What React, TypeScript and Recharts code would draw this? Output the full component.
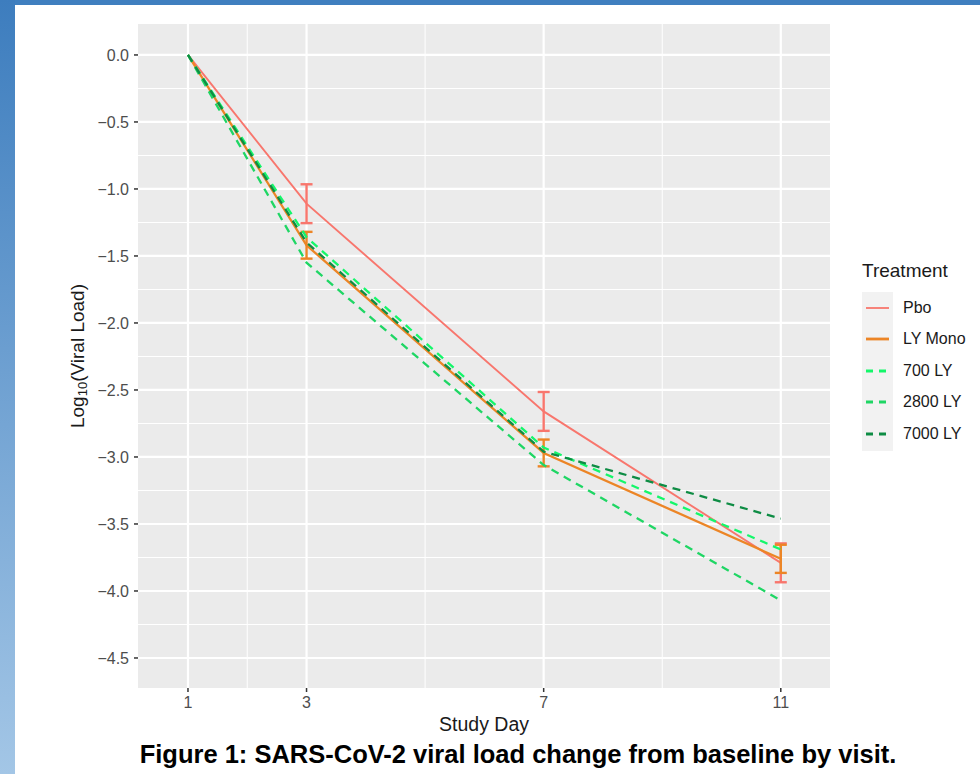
import React from 'react'
import { LineChart, Line, XAxis, YAxis, CartesianGrid, ErrorBar } from 'recharts'

const days = [1, 3, 7, 11]
const pbo = [0, -1.11, -2.66, -3.79]
const pboErr = [0, 0.145, 0.145, 0.145]
const lyMono = [0, -1.42, -2.97, -3.76]
const lyMonoErr = [0, 0.1, 0.1, 0.105]
const ly700 = [0, -1.36, -2.93, -3.69]
const ly2800 = [0, -1.55, -3.06, -4.07]
const ly7000 = [0, -1.4, -2.96, -3.46]

const yTicks = [0, -0.5, -1, -1.5, -2, -2.5, -3, -3.5, -4, -4.5]
const yMinor = [-0.25, -0.75, -1.25, -1.75, -2.25, -2.75, -3.25, -3.75, -4.25]
const xTicks = [1, 3, 7, 11]
const xMinor = [2, 5, 9]

const series = [
  { key: 'pbo', name: 'Pbo', color: '#F8766D', width: 1.9, dash: undefined },
  { key: 'lyMono', name: 'LY Mono', color: '#EC8526', width: 2.3, dash: undefined },
  { key: 'ly700', name: '700 LY', color: '#14F76A', width: 2.3, dash: '8 6' },
  { key: 'ly2800', name: '2800 LY', color: '#1FD664', width: 2.3, dash: '8 6' },
  { key: 'ly7000', name: '7000 LY', color: '#0E8C44', width: 2.3, dash: '8 6' },
]

const data = days.map((day, i) => ({
  day,
  pbo: pbo[i],
  pboErr: pboErr[i],
  lyMono: lyMono[i],
  lyMonoErr: lyMonoErr[i],
  ly700: ly700[i],
  ly2800: ly2800[i],
  ly7000: ly7000[i],
}))

const font = '"Liberation Sans", Arial, sans-serif'
const fmt = (v: number) => (v < 0 ? '\u2212' + Math.abs(v).toFixed(1) : v.toFixed(1))

function TreatmentLegend() {
  return (
    <div style={{ position: 'absolute', left: 862, top: 259, width: 118, fontFamily: font }}>
      <div style={{ fontSize: 19, lineHeight: '24px', color: '#1a1a1a', marginBottom: 9 }}>Treatment</div>
      <div style={{ position: 'relative' }}>
        <div style={{ position: 'absolute', left: 0, top: 0, width: 31, height: 159, background: '#F2F2F2' }} />
        {series.map((s) => (
          <div key={s.key} style={{ position: 'relative', height: 31.5, display: 'flex', alignItems: 'center' }}>
            <svg width={31} height={10} style={{ display: 'block' }}>
              <line x1={4} x2={27} y1={5} y2={5} stroke={s.color} strokeWidth={s.key === 'pbo' ? 1.8 : 2.8} strokeDasharray={s.dash ? '7 6' : undefined} />
            </svg>
            <span style={{ marginLeft: 10, fontSize: 16, color: '#1a1a1a' }}>{s.name}</span>
          </div>
        ))}
      </div>
    </div>
  )
}

function YTitle(props: any) {
  const { viewBox } = props
  const cx = 77
  const cy = viewBox.y + viewBox.height / 2
  return (
    <text x={cx} y={cy} transform={`rotate(-90 ${cx} ${cy})`} textAnchor="middle" dominantBaseline="central" fill="#1a1a1a" fontSize={19} fontFamily={font}>
      Log<tspan fontSize={13} dy={5}>10</tspan><tspan dy={-5}>(Viral Load)</tspan>
    </text>
  )
}

function XTitle(props: any) {
  const { viewBox } = props
  return (
    <text x={viewBox.x + viewBox.width / 2} y={724} textAnchor="middle" dominantBaseline="central" fill="#1a1a1a" fontSize={19.5} fontFamily={font}>
      Study Day
    </text>
  )
}

export default function App() {
  return (
    <div style={{ position: 'absolute', left: 0, top: 0, width: 980, height: 774, background: '#fff', overflow: 'hidden' }}>
      <div style={{ position: 'absolute', left: 0, top: 0, width: 980, height: 5, background: '#3F7FBF' }} />
      <div style={{ position: 'absolute', left: 0, top: 0, width: 15, height: 774, background: 'linear-gradient(#3D7DBE, #A3C6E6)' }} />
      <div style={{ position: 'absolute', left: 0, top: 0 }}>
        <LineChart width={980} height={774} data={data} margin={{ top: 24, right: 150, bottom: 54, left: 78 }} style={{ fontFamily: font }}>
          <CartesianGrid fill="#EBEBEB" stroke="#FFFFFF" strokeWidth={1} horizontalValues={yMinor} verticalValues={xMinor} />
          <CartesianGrid fill="none" stroke="#FFFFFF" strokeWidth={2.2} horizontalValues={yTicks} verticalValues={xTicks} />
          <XAxis
            type="number"
            dataKey="day"
            domain={[0.157, 11.83]}
            ticks={xTicks}
            allowDataOverflow
            axisLine={false}
            tickLine={{ stroke: '#333', strokeWidth: 1.5 }}
            tickSize={4}
            tickMargin={5}
            tick={{ fill: '#4D4D4D', fontSize: 16 }}
            height={32}
            label={<XTitle />}
          />
          <YAxis
            type="number"
            domain={[-4.724, 0.231]}
            ticks={yTicks}
            allowDataOverflow
            axisLine={false}
            tickLine={{ stroke: '#333', strokeWidth: 1.5 }}
            tickSize={4}
            tickMargin={5}
            tickFormatter={fmt}
            tick={{ fill: '#4D4D4D', fontSize: 16 }}
            width={60}
            label={<YTitle />}
          />
          {series.map((s) => (
            <Line
              key={s.key}
              type="linear"
              dataKey={s.key}
              name={s.name}
              stroke={s.color}
              strokeWidth={s.width}
              strokeDasharray={s.dash}
              dot={false}
              activeDot={false}
              isAnimationActive={false}
            >
              {s.key === 'pbo' && <ErrorBar dataKey="pboErr" width={6} stroke={s.color} strokeWidth={2.4} direction="y" />}
              {s.key === 'lyMono' && <ErrorBar dataKey="lyMonoErr" width={6} stroke={s.color} strokeWidth={2.4} direction="y" />}
            </Line>
          ))}
        </LineChart>
      </div>
      <TreatmentLegend />
      <div style={{ position: 'absolute', left: 0, top: 738, width: 1036, textAlign: 'center', fontFamily: font, fontWeight: 'bold', fontSize: 25.5, lineHeight: '32px', color: '#000' }}>
        Figure 1: SARS-CoV-2 viral load change from baseline by visit.
      </div>
    </div>
  )
}
